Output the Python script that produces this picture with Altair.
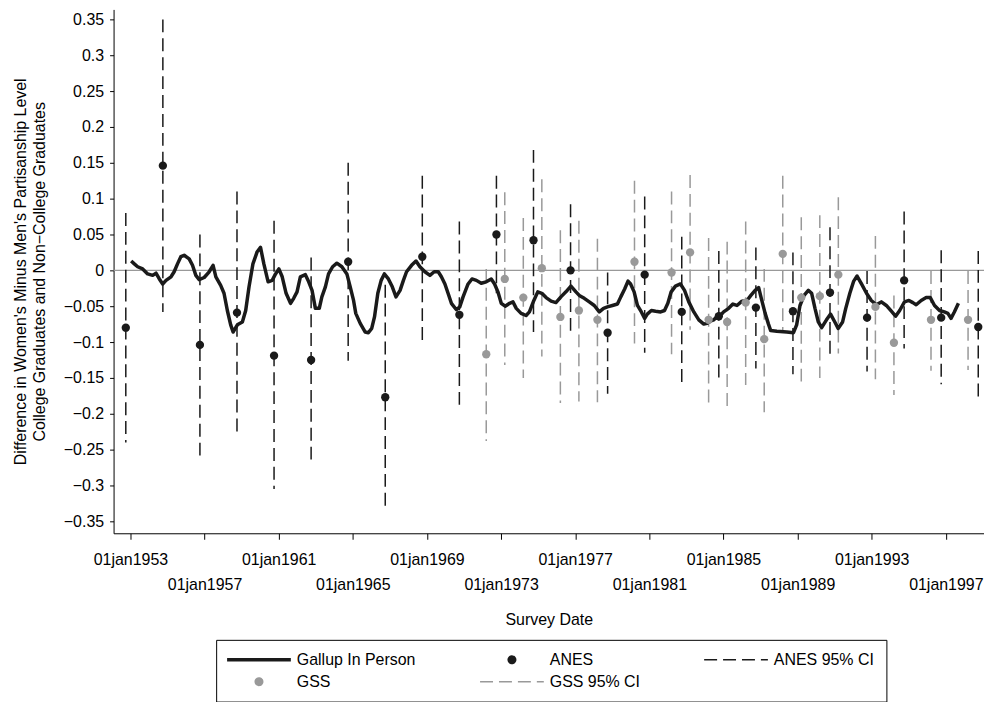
import altair as alt
import pandas as pd

# ---------------- data ----------------
gallup_year = [1953.04, 1953.21, 1953.39, 1953.66, 1953.93, 1954.20, 1954.38, 1954.56, 1954.74, 1954.92,
               1955.19, 1955.36, 1955.54, 1955.72, 1955.90, 1956.17, 1956.35, 1956.53, 1956.71, 1956.98,
               1957.25, 1957.46, 1957.61, 1957.87, 1958.05, 1958.23, 1958.41, 1958.54, 1958.77, 1959.04,
               1959.22, 1959.40, 1959.61, 1959.84, 1960.02, 1960.20, 1960.43, 1960.65, 1960.83, 1961.01,
               1961.19, 1961.40, 1961.64, 1961.81, 1961.99, 1962.17, 1962.44, 1962.62, 1962.80, 1962.98,
               1963.19, 1963.33, 1963.52, 1963.69, 1963.91, 1964.14, 1964.41, 1964.68, 1964.86, 1965.04,
               1965.16, 1965.40, 1965.67, 1965.84, 1966.02, 1966.17, 1966.35, 1966.53, 1966.70, 1966.92,
               1967.13, 1967.33, 1967.55, 1967.73, 1967.90, 1968.17, 1968.41, 1968.62, 1968.89, 1969.16,
               1969.39, 1969.61, 1969.78, 1969.97, 1970.14, 1970.32, 1970.59, 1970.77, 1970.95, 1971.22,
               1971.43, 1971.67, 1971.93, 1972.20, 1972.47, 1972.65, 1972.83, 1973.01, 1973.22, 1973.46,
               1973.64, 1973.82, 1974.08, 1974.35, 1974.53, 1974.77, 1974.98, 1975.20, 1975.43, 1975.70,
               1975.96, 1976.23, 1976.50, 1976.77, 1977.04, 1977.22, 1977.49, 1977.76, 1978.03, 1978.30,
               1978.53, 1978.74, 1979.01, 1979.28, 1979.46, 1979.67, 1979.85, 1979.99, 1980.18, 1980.36,
               1980.57, 1980.75, 1980.89, 1981.11, 1981.34, 1981.61, 1981.82, 1982.00, 1982.18, 1982.41,
               1982.68, 1982.90, 1983.13, 1983.40, 1983.67, 1983.94, 1984.12, 1984.29, 1984.47, 1984.65,
               1984.83, 1985.01, 1985.28, 1985.51, 1985.73, 1986.00, 1986.27, 1986.48, 1986.71, 1986.90,
               1987.07, 1987.25, 1987.43, 1987.55, 1987.88, 1988.42, 1988.78, 1988.95, 1989.13, 1989.35,
               1989.58, 1989.76, 1989.94, 1990.12, 1990.30, 1990.56, 1990.78, 1991.01, 1991.19, 1991.43,
               1991.60, 1991.82, 1992.03, 1992.21, 1992.45, 1992.72, 1992.98, 1993.25, 1993.52, 1993.79,
               1994.06, 1994.29, 1994.51, 1994.77, 1995.01, 1995.22, 1995.40, 1995.67, 1995.94, 1996.16,
               1996.39, 1996.66, 1996.92, 1997.11, 1997.28, 1997.46, 1997.68]
gallup_value = [0.013, 0.009, 0.005, 0.002, -0.005, -0.007, -0.004, -0.012, -0.019, -0.014,
                -0.009, -0.002, 0.009, 0.019, 0.021, 0.016, 0.007, -0.007, -0.013, -0.010,
                -0.002, 0.007, -0.009, -0.021, -0.032, -0.056, -0.076, -0.086, -0.076, -0.072,
                -0.056, -0.023, 0.009, 0.026, 0.032, 0.009, -0.016, -0.014, -0.005, 0.002,
                -0.009, -0.032, -0.046, -0.039, -0.030, -0.009, -0.006, -0.016, -0.028, -0.053,
                -0.053, -0.037, -0.023, -0.005, 0.005, 0.010, 0.005, -0.005, -0.023, -0.042,
                -0.060, -0.074, -0.086, -0.087, -0.081, -0.065, -0.032, -0.014, -0.005, -0.012,
                -0.023, -0.037, -0.028, -0.014, -0.002, 0.007, 0.013, 0.005, -0.002, -0.007,
                -0.002, -0.002, -0.009, -0.019, -0.032, -0.046, -0.055, -0.051, -0.037, -0.019,
                -0.012, -0.014, -0.018, -0.016, -0.012, -0.019, -0.030, -0.046, -0.050, -0.046,
                -0.044, -0.053, -0.060, -0.063, -0.058, -0.042, -0.030, -0.032, -0.038, -0.043,
                -0.045, -0.037, -0.030, -0.022, -0.030, -0.035, -0.039, -0.044, -0.049, -0.058,
                -0.053, -0.051, -0.049, -0.047, -0.037, -0.026, -0.015, -0.019, -0.030, -0.049,
                -0.058, -0.067, -0.061, -0.056, -0.057, -0.058, -0.056, -0.046, -0.030, -0.022,
                -0.019, -0.028, -0.044, -0.058, -0.069, -0.075, -0.074, -0.071, -0.069, -0.065,
                -0.063, -0.058, -0.053, -0.047, -0.049, -0.043, -0.042, -0.035, -0.028, -0.024,
                -0.042, -0.060, -0.075, -0.084, -0.085, -0.086, -0.087, -0.076, -0.049, -0.035,
                -0.028, -0.032, -0.053, -0.072, -0.080, -0.069, -0.061, -0.072, -0.081, -0.072,
                -0.053, -0.032, -0.015, -0.008, -0.019, -0.032, -0.042, -0.048, -0.044, -0.049,
                -0.057, -0.064, -0.056, -0.044, -0.042, -0.045, -0.048, -0.042, -0.038, -0.038,
                -0.049, -0.056, -0.058, -0.060, -0.067, -0.058, -0.046]

anes_year = [1952.75, 1954.75, 1956.75, 1958.75, 1960.75, 1962.75, 1964.75, 1966.75, 1968.75, 1970.75,
             1972.75, 1974.75, 1976.75, 1978.75, 1980.75, 1982.75, 1984.75, 1986.75, 1988.75, 1990.75,
             1992.75, 1994.75, 1996.75, 1998.75]
anes_est = [-0.080, 0.146, -0.104, -0.059, -0.119, -0.125, 0.012, -0.177, 0.019, -0.062,
            0.050, 0.042, 0.000, -0.087, -0.006, -0.058, -0.064, -0.052, -0.057, -0.031,
            -0.066, -0.014, -0.066, -0.079]
anes_lo = [-0.240, -0.058, -0.259, -0.231, -0.305, -0.271, -0.126, -0.335, -0.098, -0.191,
           -0.032, -0.086, -0.092, -0.172, -0.115, -0.164, -0.155, -0.137, -0.145, -0.124,
           -0.141, -0.109, -0.159, -0.184]
anes_hi = [0.080, 0.350, 0.050, 0.110, 0.069, 0.018, 0.150, -0.020, 0.132, 0.068,
           0.132, 0.168, 0.092, -0.003, 0.103, 0.047, 0.027, 0.032, 0.025, 0.060,
           -0.001, 0.082, 0.028, 0.027]

gss_year = [1972.2, 1973.2, 1974.2, 1975.2, 1976.2, 1977.2, 1978.2, 1980.2, 1982.2, 1983.2,
            1984.2, 1985.2, 1986.2, 1987.2, 1988.2, 1989.2, 1990.2, 1991.2, 1993.2, 1994.2,
            1996.2, 1998.2]
gss_est = [-0.117, -0.012, -0.038, 0.003, -0.065, -0.056, -0.069, 0.012, -0.003, 0.025,
           -0.069, -0.072, -0.045, -0.096, 0.023, -0.038, -0.036, -0.006, -0.051, -0.101,
           -0.069, -0.069]
gss_lo = [-0.238, -0.132, -0.150, -0.120, -0.185, -0.183, -0.184, -0.102, -0.117, -0.083,
          -0.185, -0.190, -0.160, -0.198, -0.086, -0.155, -0.150, -0.116, -0.152, -0.174,
          -0.140, -0.139]
gss_hi = [0.002, 0.109, 0.073, 0.127, 0.056, 0.069, 0.044, 0.125, 0.110, 0.133,
          0.045, 0.040, 0.068, 0.002, 0.132, 0.074, 0.077, 0.102, 0.048, -0.035,
          -0.001, -0.001]

zero_line = [0.0]
x_ticks = [1953, 1957, 1961, 1965, 1969, 1973, 1977, 1981, 1985, 1989, 1993, 1997]
y_ticks = [-0.35, -0.3, -0.25, -0.2, -0.15, -0.1, -0.05, 0.0, 0.05, 0.1, 0.15, 0.2, 0.25, 0.3, 0.35]
legend_names = ["Gallup In Person", "ANES", "ANES 95% CI", "GSS", "GSS 95% CI"]

# ---------------- styling ----------------
FONT = "Liberation Sans"
BLACK = "#1a1a1a"
GRAY = "#999999"
DASH = [13, 6]

gallup = pd.DataFrame({"year": gallup_year, "value": gallup_value})
anes = pd.DataFrame({"year": anes_year, "est": anes_est, "lo": anes_lo, "hi": anes_hi})
gss = pd.DataFrame({"year": gss_year, "est": gss_est, "lo": gss_lo, "hi": gss_hi})
zero_df = pd.DataFrame({"v": zero_line})
legend_df = pd.DataFrame({"series": legend_names})

x_scale = alt.Scale(domain=[1952.09, 1999.06], nice=False, zero=False)
y_scale = alt.Scale(domain=[-0.3667, 0.3639], nice=False, zero=False)

x_axis = alt.Axis(
    values=x_ticks,
    labelExpr="(datum.value - 1953) % 8 == 0 ? '01jan' + datum.value : ['', '01jan' + datum.value]",
    title="Survey Date", grid=False, tickSize=6, labelOverlap=False, labelFlush=False,
    labelBound=False, labelBaseline="top", labelLineHeight=25, labelPadding=12,
    labelFontSize=16, titleFontSize=16, titlePadding=20,
)
y_axis = alt.Axis(
    values=y_ticks, format=".2~f",
    title=["Difference in Women's Minus Men's Partisanship Level",
           "College Graduates and Non\u2212College Graduates"],
    grid=False, tickSize=4, labelPadding=6, labelFontSize=16,
    titleFontSize=16, titlePadding=16, titleLineHeight=19,
)


def X(field):
    return alt.X(field, type="quantitative", scale=x_scale, axis=x_axis)


def Y(field):
    return alt.Y(field, type="quantitative", scale=y_scale, axis=y_axis)


zero_rule = alt.Chart(zero_df).mark_rule(color=GRAY, strokeWidth=1.2).encode(y=Y("v"))

gss_ci = alt.Chart(gss).mark_rule(color=GRAY, strokeWidth=1.5, strokeDash=DASH).encode(
    x=X("year"), y=Y("hi"), y2="lo")
anes_ci = alt.Chart(anes).mark_rule(color=BLACK, strokeWidth=1.5, strokeDash=DASH).encode(
    x=X("year"), y=Y("hi"), y2="lo")

gallup_line = alt.Chart(gallup).mark_line(color=BLACK, strokeWidth=3.5, strokeJoin="round").encode(
    x=X("year"), y=Y("value"))

gss_pts = alt.Chart(gss).mark_circle(color=GRAY, size=70, opacity=1).encode(x=X("year"), y=Y("est"))
anes_pts = alt.Chart(anes).mark_circle(color=BLACK, size=70, opacity=1).encode(x=X("year"), y=Y("est"))


# legend symbols: custom paths (unit = sqrt(size)/2 = 5 px)
def circle(r):
    return f"M{r},0A{r},{r} 0 1,1 {-r},0A{r},{r} 0 1,1 {r},0Z"


thick_line = "M-6.4,-0.2H6.4M-6.4,0H6.4M-6.4,0.2H6.4"
thin_line = "M-6.4,0H6.4"
dot = circle(0.15) + circle(0.4) + circle(0.65) + circle(0.75)

legend_paths = [thick_line, dot, thin_line, dot, thin_line]
legend_colors = [BLACK, BLACK, BLACK, GRAY, GRAY]
legend_dashes = [[1, 0], [1, 0], DASH, [1, 0], DASH]

leg = alt.Legend(
    title=None, orient="none", legendX=103, legendY=633, columns=3, direction="horizontal",
    strokeColor="black", fillColor="white", padding=12, cornerRadius=0,
    labelFont=FONT, labelFontSize=16, labelColor="black", labelOffset=30, symbolOffset=23,
    symbolStrokeWidth=1.5, symbolSize=100, columnPadding=61, rowPadding=6, labelLimit=400,
)

legend_layer = alt.Chart(legend_df).transform_filter("false").mark_point(
    filled=False, size=100, opacity=1, strokeWidth=1.5).encode(
    stroke=alt.Stroke("series:N", scale=alt.Scale(domain=legend_names, range=legend_colors), legend=leg),
    shape=alt.Shape("series:N", scale=alt.Scale(domain=legend_names, range=legend_paths), legend=leg),
    strokeDash=alt.StrokeDash("series:N", scale=alt.Scale(domain=legend_names, range=legend_dashes), legend=leg),
)

chart = alt.layer(
    zero_rule, gss_ci, anes_ci, gallup_line, gss_pts, anes_pts, legend_layer
).properties(
    width=874, height=526,
    autosize=alt.AutoSizeParams(type="none"),
    padding={"left": 106, "top": 0, "right": 0, "bottom": 168},
).configure_view(stroke=None).configure_axis(
    labelFont=FONT, titleFont=FONT, labelColor="black", titleColor="black",
    domainColor="black", tickColor="black", domainWidth=1, tickWidth=1, titleFontWeight="normal",
)

chart.save("out.html", embed_options={"renderer": "svg", "actions": False})
